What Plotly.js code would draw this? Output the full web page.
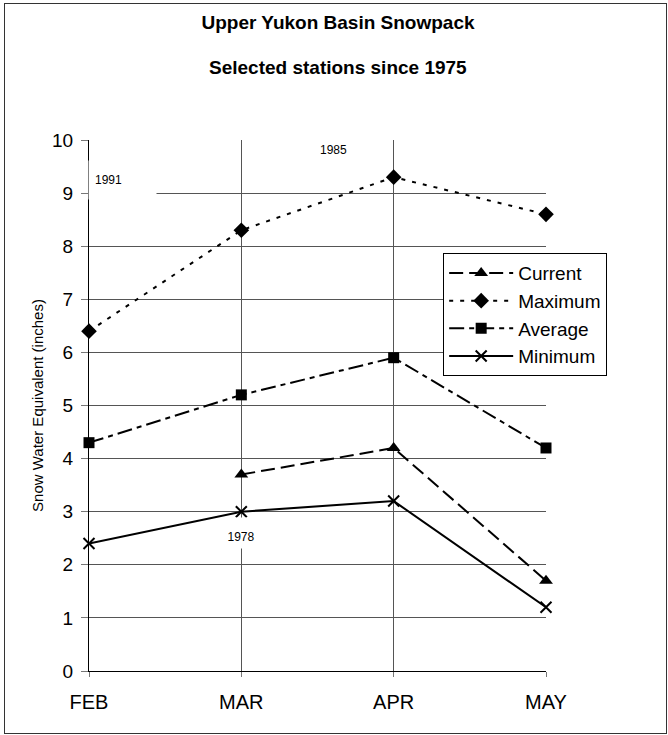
<!DOCTYPE html>
<html>
<head>
<meta charset="utf-8">
<script src="https://cdn.plot.ly/plotly-3.0.1.min.js"></script>
<style>
  html, body { margin: 0; padding: 0; background: #fff; }
  #wrap { position: relative; width: 668px; height: 735px; }
  #chart { position: absolute; left: 0; top: 0; width: 668px; height: 735px; }
  #frame { position: absolute; left: 4px; top: 3px; width: 663px; height: 731px;
           box-sizing: border-box; border: 1px solid #333; pointer-events: none; }
</style>
</head>
<body>
<div id="wrap">
  <div id="chart"></div>
  <div id="frame"></div>
</div>
<script>
// ---- data ----
const months  = ['FEB', 'MAR', 'APR', 'MAY'];
const current = [null, 3.7, 4.2, 1.7];
const maximum = [6.4, 8.3, 9.3, 8.6];
const average = [4.3, 5.2, 5.9, 4.2];
const minimum = [2.4, 3.0, 3.2, 1.2];
const seriesNames = ['Current', 'Maximum', 'Average', 'Minimum'];
const yearLabels  = ['1991', '1985', '1978'];
const titleMain = 'Upper Yukon Basin Snowpack';
const titleSub  = 'Selected stations since 1975';
const yTitle    = 'Snow Water Equivalent (inches)';

const FONT = 'Liberation Sans, Arial, Helvetica, sans-serif';

function trace(name, y, dash, symbol, msize, lineW) {
  return {
    type: 'scatter', mode: 'lines+markers', name: name,
    x: months, y: y, cliponaxis: false,
    line: { color: '#000', width: 2, dash: dash },
    marker: { symbol: symbol, size: msize, color: '#000',
              line: { color: '#000', width: lineW } }
  };
}

const data = [
  trace(seriesNames[0], current, '14px,6px', 'triangle-up', 12, 0),
  trace(seriesNames[1], maximum, '4px,7px', 'diamond', 12, 0),
  trace(seriesNames[2], average, '15px,5px,5px,5px', 'square', 11, 0),
  trace(seriesNames[3], minimum, 'solid', 'x-thin-open', 11, 2)
];

const annFont = { family: FONT, size: 12, color: '#000' };
const layout = {
  width: 668, height: 735,
  margin: { l: 89, r: 122, t: 140, b: 64 },
  paper_bgcolor: '#fff', plot_bgcolor: '#fff',
  font: { family: FONT, color: '#000' },
  showlegend: true,
  title: {
    text: '<b>' + titleMain + '</b>',
    font: { family: FONT, size: 19, color: '#000' },
    x: 0.506, xref: 'container', xanchor: 'center',
    y: 0.970, yref: 'container', yanchor: 'middle'
  },
  xaxis: {
    type: 'category', range: [0, 3],
    showgrid: true, gridcolor: '#555', gridwidth: 1,
    showline: true, linecolor: '#000', linewidth: 1,
    zeroline: false,
    ticks: 'outside', ticklen: 5, tickcolor: '#777',
    ticklabelstandoff: 8,
    tickfont: { family: FONT, size: 20, color: '#000' },
    fixedrange: true
  },
  yaxis: {
    range: [0, 10], dtick: 1, tick0: 0,
    showgrid: true, gridcolor: '#555', gridwidth: 1,
    showline: true, linecolor: '#000', linewidth: 1,
    zeroline: false,
    ticks: 'outside', ticklen: 7, tickcolor: '#777',
    ticklabelstandoff: 4,
    tickfont: { family: FONT, size: 19, color: '#000' },
    title: { text: yTitle, font: { family: FONT, size: 15, color: '#000' }, standoff: 4 },
    fixedrange: true
  },
  legend: {
    x: 0.775, xanchor: 'left', y: 0.787, yanchor: 'top',
    bgcolor: '#fff', bordercolor: '#000', borderwidth: 1,
    font: { family: FONT, size: 19, color: '#000' },
    itemwidth: 64, tracegroupgap: 0
  },
  annotations: [
    { x: 0.545, y: 1.1356, xref: 'paper', yref: 'paper', text: '<b>' + titleSub + '</b>',
      showarrow: false, xanchor: 'center', yanchor: 'middle',
      font: { family: FONT, size: 19, color: '#000' } },
    { x: 0.22, y: 9.25, xref: 'x', yref: 'y', text: yearLabels[0], showarrow: false,
      font: annFont, bgcolor: '#fff', borderpad: 6, width: 55, height: 26, align: 'left' },
    { x: 1.674, y: 9.81, xref: 'x', yref: 'y', text: yearLabels[1], showarrow: false,
      font: annFont, bgcolor: '#fff', borderpad: 4, width: 48, height: 16, align: 'left' },
    { x: 1, y: 2.6, xref: 'x', yref: 'y', text: yearLabels[2], showarrow: false,
      font: annFont, bgcolor: '#fff', borderpad: 4, width: 30, height: 22, valign: 'bottom' }
  ]
};

Plotly.newPlot('chart', data, layout, { displayModeBar: false, staticPlot: true });
</script>
</body>
</html>
